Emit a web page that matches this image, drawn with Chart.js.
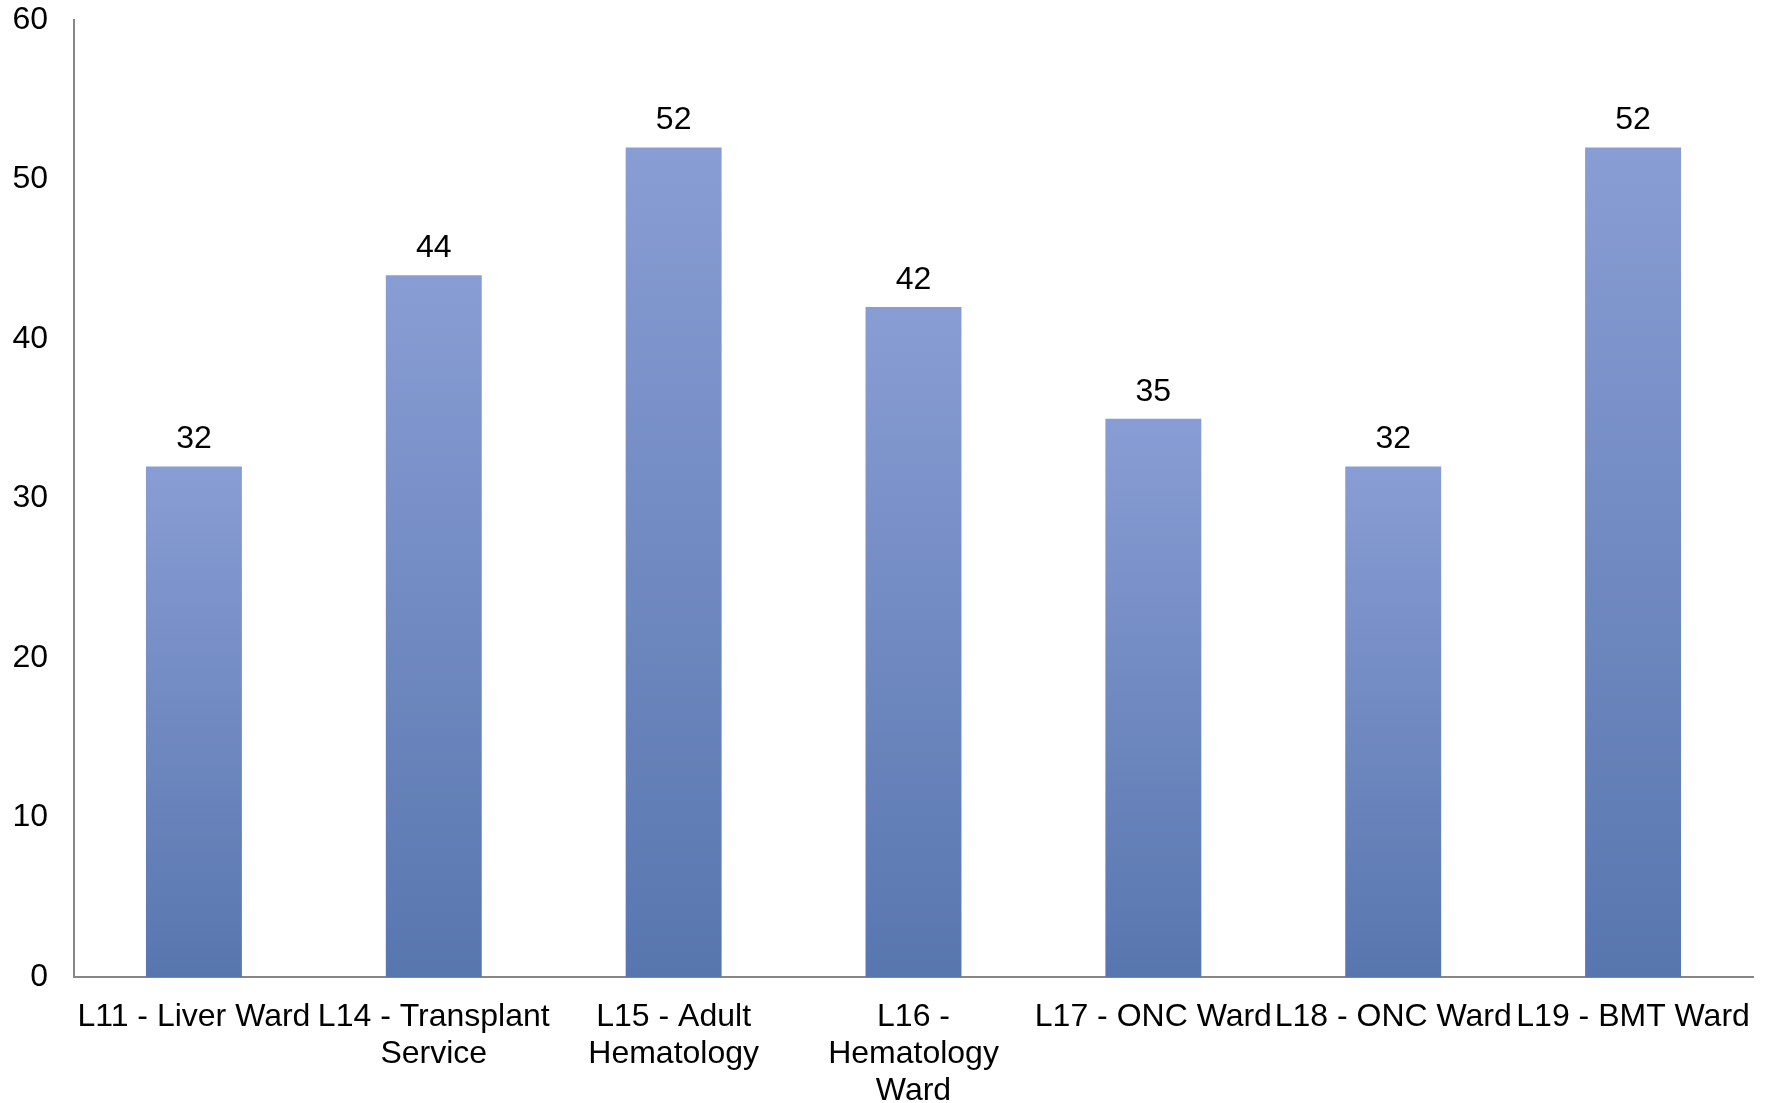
<!DOCTYPE html>
<html>
<head>
<meta charset="utf-8">
<script src="https://cdn.jsdelivr.net/npm/chart.js@4.4.1/dist/chart.umd.min.js"></script>
<style>
  html, body { margin: 0; padding: 0; background: #fff; }
  #wrap { width: 1768px; height: 1103px; }
</style>
</head>
<body>
<div id="wrap"><canvas id="wardChart" width="1768" height="1103"></canvas></div>
<script>
const wards = [
    ["L11 - Liver Ward"],
    ["L14 - Transplant", "Service"],
    ["L15 - Adult", "Hematology"],
    ["L16 -", "Hematology", "Ward"],
    ["L17 - ONC Ward"],
    ["L18 - ONC Ward"],
    ["L19 - BMT Ward"],
];
const counts = [32, 44, 52, 42, 35, 32, 52];
const yTicks = [0, 10, 20, 30, 40, 50, 60];

const FONT = "'Liberation Sans', Arial, sans-serif";

// value labels above each bar
const barValues = {
    id: "barValues",
    afterDatasetsDraw(chart) {
        const ctx = chart.ctx;
        const meta = chart.getDatasetMeta(0);
        ctx.save();
        ctx.font = "32px " + FONT;
        ctx.fillStyle = "#000";
        ctx.textAlign = "center";
        ctx.textBaseline = "bottom";
        meta.data.forEach((bar, i) => {
            ctx.fillText(String(counts[i]), bar.x, bar.y - 11);
        });
        ctx.restore();
    },
};

function barFill(context) {
    const chart = context.chart;
    const area = chart.chartArea;
    if (!area) return "#6f87c2";
    const y = chart.scales.y;
    const v = context.raw;
    const top = y.getPixelForValue(v);
    const bottom = y.getPixelForValue(0);
    const g = chart.ctx.createLinearGradient(0, top, 0, bottom);
    g.addColorStop(0, "#889dd4");
    g.addColorStop(1, "#5876ae");
    return g;
}

const ctx = document.getElementById("wardChart").getContext("2d");
const wardChart = new Chart(ctx, {
    type: "bar",
    data: {
        labels: wards,
        datasets: [
            {
                data: counts,
                backgroundColor: barFill,
                borderWidth: 0,
                categoryPercentage: 1,
                barPercentage: 0.4,
            },
        ],
    },
    options: {
        responsive: false,
        animation: false,
        layout: { padding: { top: 0, right: 15, left: 0, bottom: 0 } },
        plugins: {
            legend: { display: false },
            tooltip: { enabled: false },
        },
        scales: {
            x: {
                grid: { display: false, drawTicks: false },
                border: { color: "#868686", width: 2 },
                ticks: {
                    color: "#000",
                    font: { family: FONT, size: 32, lineHeight: 1.15 },
                    padding: 22,
                    maxRotation: 0,
                    autoSkip: false,
                },
                afterFit(scale) {
                    scale.height = 126;
                    scale.paddingLeft = 0;
                    scale.paddingRight = 0;
                },
            },
            y: {
                min: 0,
                max: 60,
                afterBuildTicks(scale) {
                    scale.ticks = yTicks.map(v => ({ value: v }));
                },
                grid: { display: false, drawTicks: false },
                border: { color: "#868686", width: 2 },
                ticks: {
                    color: "#000",
                    font: { family: FONT, size: 32 },
                    padding: 26,
                },
                afterFit(scale) {
                    scale.width = 74;
                    scale.paddingTop = 20;
                    scale.paddingBottom = 0;
                },
            },
        },
    },
    plugins: [barValues],
});
</script>
</body>
</html>
